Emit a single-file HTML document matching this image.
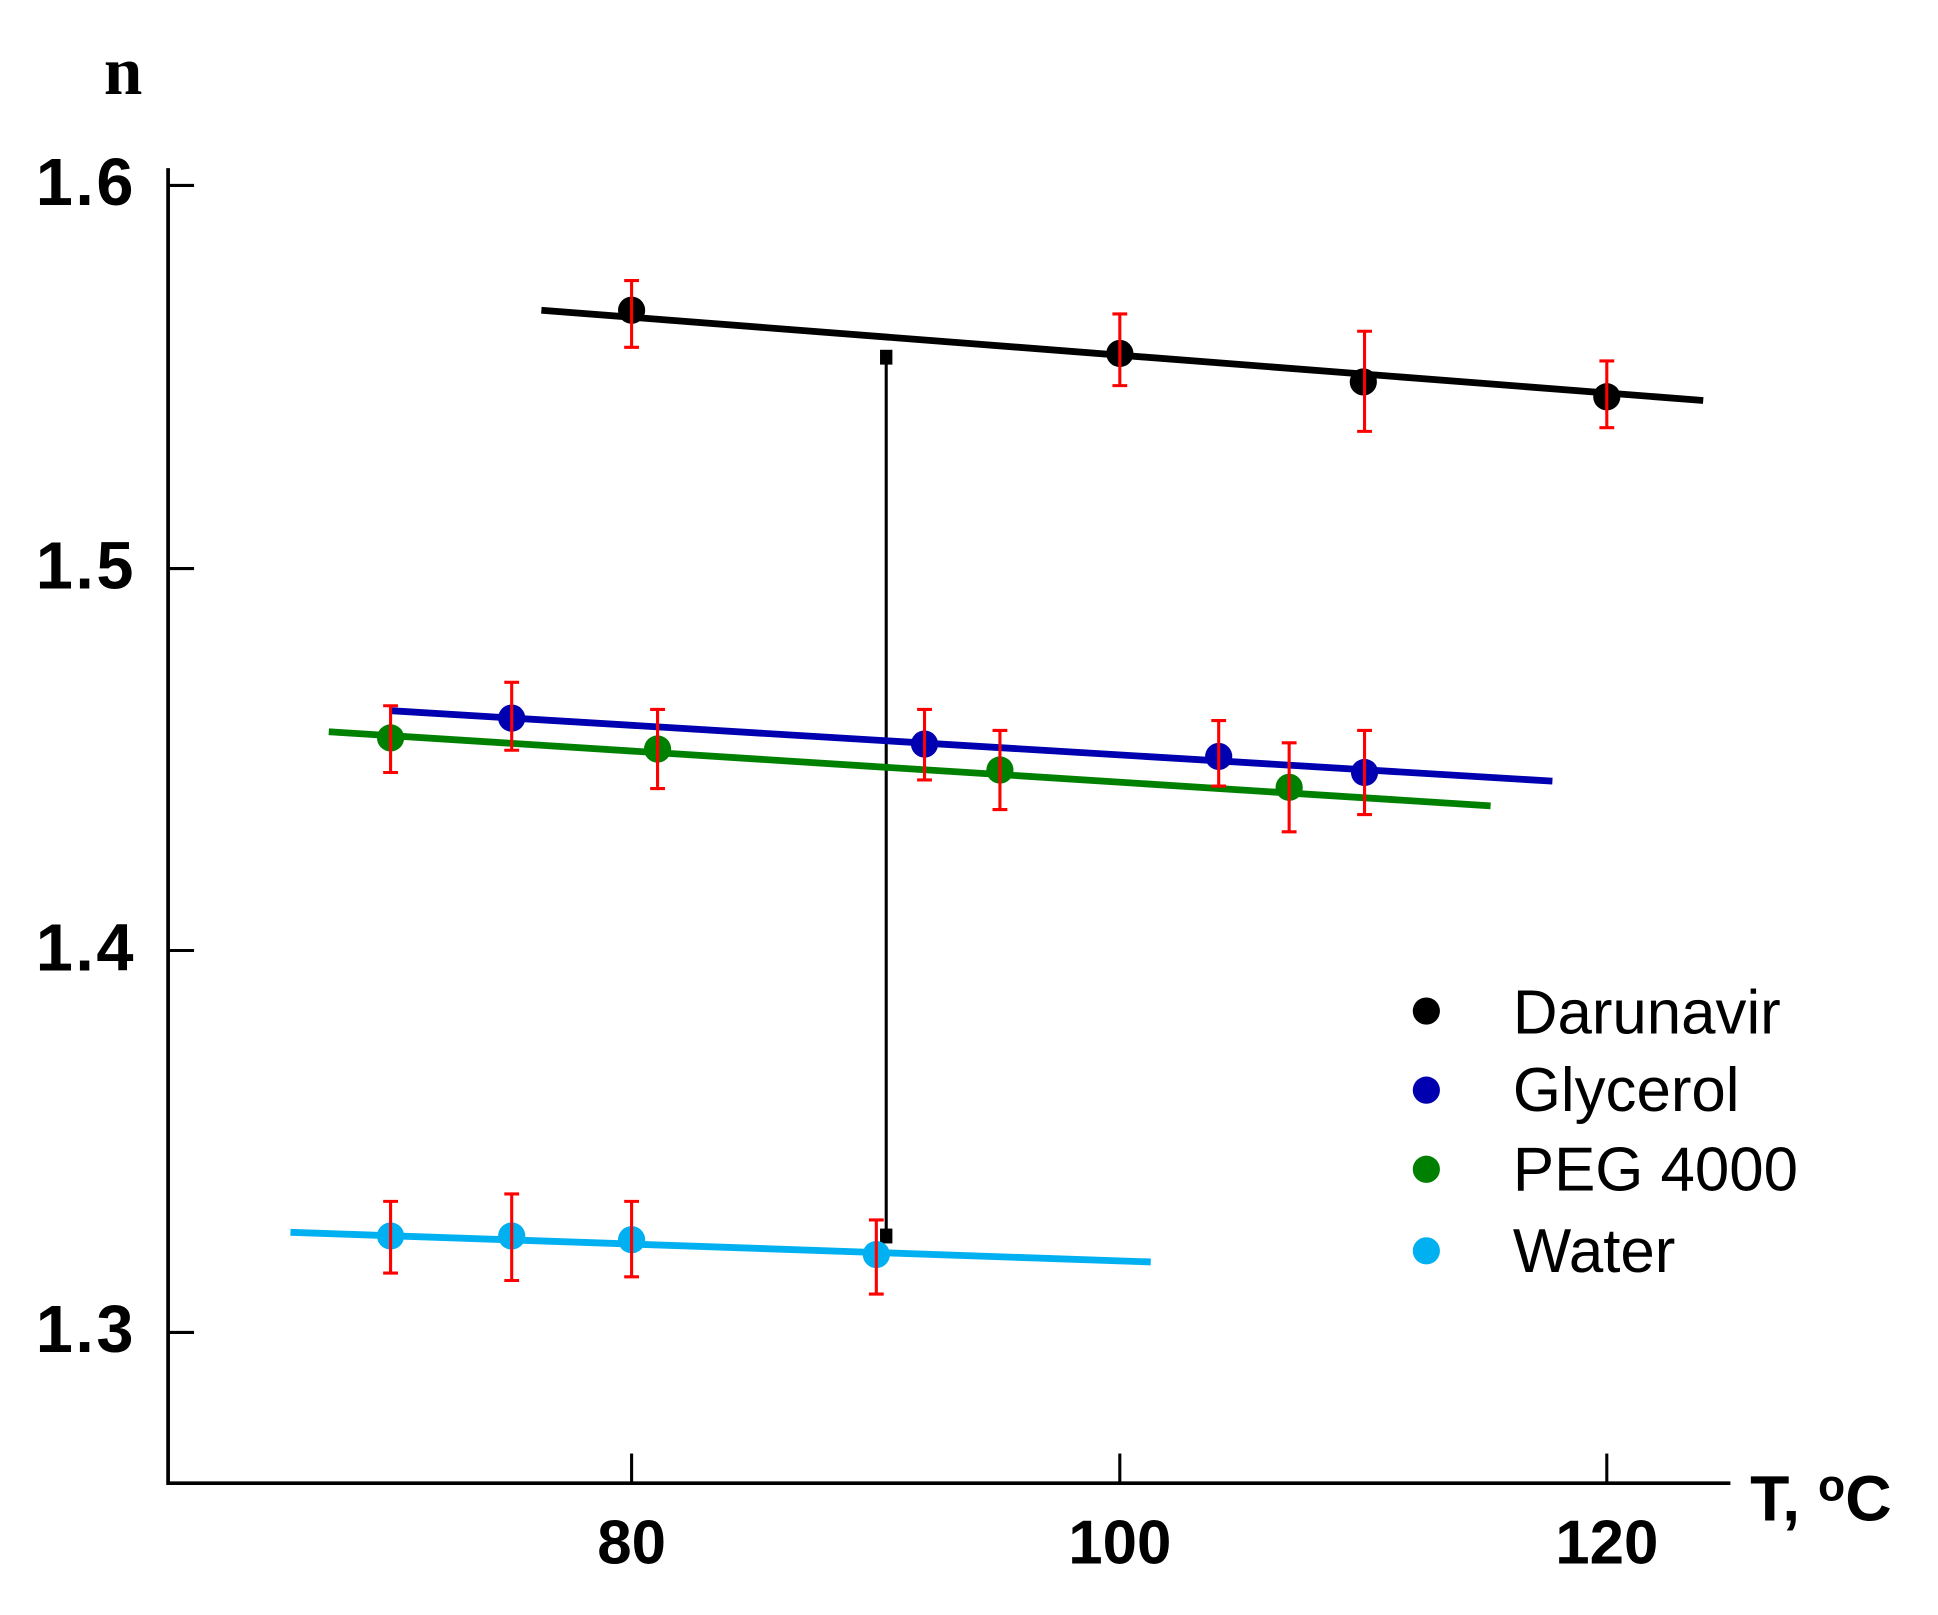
<!DOCTYPE html>
<html><head><meta charset="utf-8"><style>
html,body{margin:0;padding:0;background:#fff;}
svg{display:block;}
text{font-family:"Liberation Sans",Arial,sans-serif;}
</style></head><body>
<svg width="1938" height="1615" viewBox="0 0 1938 1615" xmlns="http://www.w3.org/2000/svg">
<g transform="scale(1.236)">
<!-- axes -->
<path d="M136,136 V1200 H1400" fill="none" stroke="#000" stroke-width="3"/>
<g stroke="#000" stroke-width="2.5">
<line x1="136" y1="150" x2="157" y2="150"/>
<line x1="136" y1="460" x2="157" y2="460"/>
<line x1="136" y1="769" x2="157" y2="769"/>
<line x1="136" y1="1078" x2="157" y2="1078"/>
<line x1="511" y1="1200" x2="511" y2="1176"/>
<line x1="906" y1="1200" x2="906" y2="1176"/>
<line x1="1300" y1="1200" x2="1300" y2="1176"/>
</g>
<g font-size="54" font-weight="bold" text-anchor="end" fill="#000" letter-spacing="2">
<text x="110" y="166">1.6</text>
<text x="110" y="476">1.5</text>
<text x="110" y="785">1.4</text>
<text x="110" y="1094">1.3</text>
</g>
<g font-size="50" font-weight="bold" text-anchor="middle" fill="#000">
<text x="511" y="1265">80</text>
<text x="906" y="1265">100</text>
<text x="1300" y="1265">120</text>
</g>
<text x="84" y="76" style="font-family:'Liberation Serif',serif;font-size:56px;font-weight:bold">n</text>
<text x="1416" y="1230" font-size="52" font-weight="bold">T, <tspan dy="-16" font-size="36">o</tspan><tspan dy="16">C</tspan></text>

<!-- Darunavir -->
<line x1="438" y1="251" x2="1378" y2="324" stroke="#000" stroke-width="5.5"/>
<!-- vertical line -->
<line x1="717" y1="289" x2="717" y2="1000" stroke="#000" stroke-width="2.5"/>
<rect x="712" y="283" width="10" height="12" fill="#000"/>
<rect x="712" y="994" width="10" height="12" fill="#000"/>
<!-- Glycerol -->
<line x1="316" y1="575" x2="1256" y2="632" stroke="#0000b0" stroke-width="5.5"/>
<!-- PEG -->
<line x1="266" y1="592" x2="1206" y2="652" stroke="#008000" stroke-width="5.5"/>
<!-- Water -->
<line x1="235" y1="997" x2="931" y2="1021" stroke="#00b0f0" stroke-width="5.5"/>

<g fill="#000">
<circle cx="511" cy="251" r="11"/><circle cx="906" cy="286" r="11"/><circle cx="1103" cy="309" r="11"/><circle cx="1300" cy="321" r="11"/>
</g>
<g fill="#0000b0">
<circle cx="414" cy="581" r="11"/><circle cx="748" cy="602" r="11"/><circle cx="986" cy="612" r="11"/><circle cx="1104" cy="625" r="11"/>
</g>
<g fill="#008000">
<circle cx="316" cy="597" r="11"/><circle cx="532" cy="606" r="11"/><circle cx="809" cy="623" r="11"/><circle cx="1043" cy="637" r="11"/>
</g>
<g fill="#00b0f0">
<circle cx="316" cy="1000" r="11"/><circle cx="414" cy="1000" r="11"/><circle cx="511" cy="1003" r="11"/><circle cx="709" cy="1015" r="11"/>
</g>

<!-- error bars -->
<g stroke="#ff0000" stroke-width="2.5" fill="none">
<path d="M511,227V281M505,227h12M505,281h12"/>
<path d="M906,254V312M900,254h12M900,312h12"/>
<path d="M1104,268V349M1098,268h12M1098,349h12"/>
<path d="M1300,292V346M1294,292h12M1294,346h12"/>
<path d="M414,552V607M408,552h12M408,607h12"/>
<path d="M748,574V631M742,574h12M742,631h12"/>
<path d="M986,583V636M980,583h12M980,636h12"/>
<path d="M1104,591V659M1098,591h12M1098,659h12"/>
<path d="M316,571V625M310,571h12M310,625h12"/>
<path d="M532,574V638M526,574h12M526,638h12"/>
<path d="M809,591V655M803,591h12M803,655h12"/>
<path d="M1043,601V673M1037,601h12M1037,673h12"/>
<path d="M316,972V1030M310,972h12M310,1030h12"/>
<path d="M414,966V1036M408,966h12M408,1036h12"/>
<path d="M511,972V1033M505,972h12M505,1033h12"/>
<path d="M709,987V1047M703,987h12M703,1047h12"/>
</g>

<!-- legend -->
<circle cx="1154" cy="818" r="11" fill="#000"/>
<circle cx="1154" cy="882" r="11" fill="#0000b0"/>
<circle cx="1154" cy="946" r="11" fill="#008000"/>
<circle cx="1154" cy="1012" r="11" fill="#00b0f0"/>
<g font-size="50" fill="#000">
<text x="1224" y="836">Darunavir</text>
<text x="1224" y="899">Glycerol</text>
<text x="1224" y="963">PEG 4000</text>
<text x="1224" y="1029">Water</text>
</g>
</g>
</svg>
</body></html>
